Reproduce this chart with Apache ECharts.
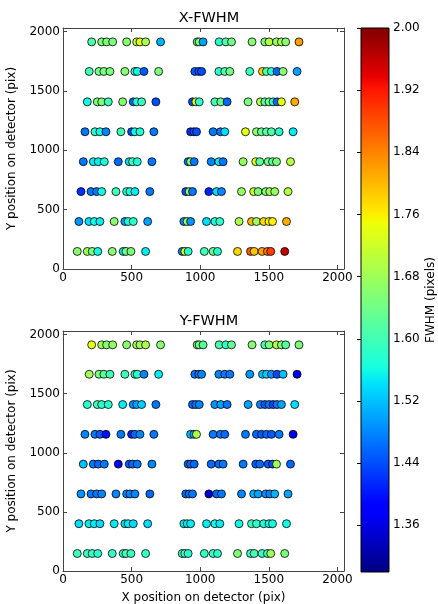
<!DOCTYPE html>
<html><head><meta charset="utf-8">
<script src="https://cdn.jsdelivr.net/npm/echarts@6/dist/echarts.min.js"></script>
<style>html,body{margin:0;padding:0;background:#fff}#c{width:438px;height:604px}</style>
</head><body><div id="c"></div>
<script>
// Rows of stars (Y detector position) and their X positions
const rowY = [1913, 1664, 1408, 1156, 904, 652, 400, 148];
const rowX = [
  [209, 282, 318, 362, 464, 537, 561, 602, 711, 978, 992, 1021, 1138, 1187, 1228, 1378, 1471, 1502, 1556, 1592, 1623, 1720],
  [191, 262, 298, 342, 451, 524, 541, 590, 697, 961, 990, 1010, 1136, 1179, 1216, 1361, 1454, 1483, 1519, 1560, 1604, 1706],
  [177, 250, 282, 330, 435, 512, 537, 573, 677, 944, 968, 993, 1107, 1150, 1196, 1349, 1439, 1471, 1502, 1531, 1560, 1592, 1689],
  [160, 233, 269, 313, 422, 500, 524, 561, 662, 930, 954, 973, 1094, 1148, 1179, 1330, 1410, 1446, 1483, 1519, 1575, 1677],
  [148, 221, 257, 301, 403, 483, 507, 541, 648, 912, 930, 956, 1080, 1136, 1167, 1313, 1405, 1434, 1495, 1527, 1556, 1658],
  [131, 204, 245, 282, 386, 464, 488, 524, 633, 895, 920, 944, 1063, 1119, 1155, 1301, 1390, 1422, 1478, 1507, 1543, 1640],
  [116, 189, 228, 269, 373, 451, 475, 512, 617, 881, 905, 930, 1046, 1107, 1143, 1283, 1374, 1410, 1463, 1502, 1527, 1629],
  [104, 177, 213, 253, 359, 439, 459, 495, 602, 869, 888, 912, 1030, 1094, 1126, 1272, 1367, 1393, 1451, 1490, 1514, 1616]
];
const xFwhm = [
  [1.61, 1.65, 1.65, 1.65, 1.66, 1.70, 1.74, 1.69, 1.51, 1.64, 1.65, 1.50, 1.58, 1.61, 1.64, 1.66, 1.65, 1.70, 1.67, 1.69, 1.66, 1.82],
  [1.60, 1.64, 1.65, 1.65, 1.66, 1.57, 1.56, 1.45, 1.65, 1.45, 1.44, 1.44, 1.58, 1.61, 1.64, 1.59, 1.78, 1.61, 1.58, 1.46, 1.66, 1.50],
  [1.56, 1.65, 1.65, 1.60, 1.66, 1.46, 1.57, 1.59, 1.44, 1.44, 1.73, 1.58, 1.60, 1.63, 1.46, 1.65, 1.70, 1.61, 1.65, 1.58, 1.46, 1.74, 1.81],
  [1.47, 1.58, 1.56, 1.48, 1.60, 1.44, 1.56, 1.57, 1.47, 1.42, 1.44, 1.44, 1.47, 1.47, 1.54, 1.74, 1.66, 1.63, 1.62, 1.61, 1.58, 1.55],
  [1.47, 1.55, 1.55, 1.57, 1.46, 1.54, 1.59, 1.57, 1.47, 1.47, 1.66, 1.47, 1.48, 1.55, 1.47, 1.67, 1.73, 1.62, 1.64, 1.62, 1.65, 1.70],
  [1.42, 1.47, 1.47, 1.56, 1.60, 1.57, 1.57, 1.55, 1.47, 1.44, 1.68, 1.47, 1.41, 1.54, 1.48, 1.67, 1.72, 1.65, 1.66, 1.68, 1.67, 1.70],
  [1.49, 1.54, 1.56, 1.55, 1.66, 1.50, 1.57, 1.58, 1.50, 1.48, 1.69, 1.49, 1.54, 1.57, 1.58, 1.69, 1.80, 1.68, 1.78, 1.75, 1.76, 1.81],
  [1.66, 1.68, 1.65, 1.56, 1.66, 1.55, 1.64, 1.65, 1.55, 1.48, 1.74, 1.58, 1.60, 1.63, 1.58, 1.78, 1.87, 1.79, 1.82, 1.85, 1.89, 1.96]
];
const yFwhm = [
  [1.74, 1.68, 1.66, 1.67, 1.66, 1.69, 1.68, 1.69, 1.66, 1.65, 1.64, 1.62, 1.61, 1.58, 1.63, 1.66, 1.60, 1.65, 1.70, 1.66, 1.62, 1.65],
  [1.68, 1.65, 1.62, 1.60, 1.60, 1.58, 1.58, 1.48, 1.55, 1.47, 1.47, 1.48, 1.48, 1.47, 1.47, 1.49, 1.52, 1.53, 1.49, 1.44, 1.52, 1.37],
  [1.58, 1.60, 1.58, 1.58, 1.55, 1.49, 1.50, 1.53, 1.47, 1.46, 1.47, 1.48, 1.49, 1.50, 1.47, 1.50, 1.48, 1.45, 1.47, 1.44, 1.47, 1.50, 1.54],
  [1.48, 1.47, 1.45, 1.40, 1.47, 1.41, 1.46, 1.48, 1.47, 1.52, 1.50, 1.69, 1.47, 1.47, 1.46, 1.47, 1.46, 1.45, 1.46, 1.45, 1.47, 1.37],
  [1.52, 1.47, 1.46, 1.47, 1.39, 1.45, 1.46, 1.47, 1.48, 1.46, 1.46, 1.46, 1.46, 1.46, 1.47, 1.47, 1.45, 1.46, 1.45, 1.44, 1.68, 1.46],
  [1.49, 1.47, 1.47, 1.48, 1.48, 1.48, 1.48, 1.48, 1.46, 1.46, 1.47, 1.47, 1.35, 1.46, 1.47, 1.48, 1.51, 1.50, 1.49, 1.48, 1.51, 1.50],
  [1.54, 1.55, 1.55, 1.54, 1.55, 1.54, 1.55, 1.54, 1.54, 1.55, 1.55, 1.55, 1.55, 1.56, 1.55, 1.56, 1.59, 1.58, 1.57, 1.56, 1.56, 1.56],
  [1.60, 1.59, 1.59, 1.58, 1.59, 1.58, 1.60, 1.59, 1.59, 1.60, 1.59, 1.58, 1.59, 1.59, 1.58, 1.65, 1.59, 1.60, 1.59, 1.59, 1.68, 1.65]
];
const posTicks = [0, 500, 1000, 1500, 2000];
const cbarTicks = [1.36, 1.44, 1.52, 1.60, 1.68, 1.76, 1.84, 1.92, 2.00];
const cbarRange = [1.30, 2.00];

// jet colormap
function interp(pts, t) {
  for (let i = 0; i < pts.length - 1; i++) {
    const a = pts[i], b = pts[i + 1];
    if (t >= a[0] && t <= b[0]) return a[1] + (b[1] - a[1]) * (t - a[0]) / (b[0] - a[0]);
  }
  return pts[pts.length - 1][1];
}
const JR = [[0,0],[0.35,0],[0.66,1],[0.89,1],[1,0.5]];
const JG = [[0,0],[0.125,0],[0.375,1],[0.64,1],[0.91,0],[1,0]];
const JB = [[0,0.5],[0.11,1],[0.34,1],[0.65,0],[1,0]];
function jet(t) {
  const c = v => Math.round(255 * v);
  return 'rgb(' + c(interp(JR, t)) + ',' + c(interp(JG, t)) + ',' + c(interp(JB, t)) + ')';
}
const jetColors = [];
for (let i = 0; i <= 100; i++) jetColors.push(jet(i / 100));
const gradStops = jetColors.map((col, i) => ({ offset: i / 100, color: col }));

function makeData(vals) {
  const d = [];
  rowY.forEach((y, r) => rowX[r].forEach((x, i) => d.push([x, y, vals[r][i]])));
  return d;
}

const FONT = 'DejaVu Sans';
const lineCol = '#444';
const txt = { fontFamily: FONT, fontSize: 12, color: '#000' };

function posX(grid, pos, labels, name) {
  return {
    gridIndex: grid, type: 'value', min: 0, max: 2048, position: pos,
    axisLine: { show: true, onZero: false, lineStyle: { color: lineCol, width: 1 } },
    axisTick: { show: true, inside: true, length: 4, customValues: posTicks, lineStyle: { color: lineCol } },
    axisLabel: { show: labels, customValues: posTicks, margin: 3, formatter: v => String(v), ...txt },
    splitLine: { show: false },
    name: name || '', nameLocation: 'middle', nameGap: 21, nameTextStyle: txt
  };
}
function posY(grid, pos, labels, name) {
  return {
    gridIndex: grid, type: 'value', min: 0, max: 2030, position: pos,
    axisLine: { show: true, onZero: false, lineStyle: { color: lineCol, width: 1 } },
    axisTick: { show: true, inside: true, length: 4, customValues: posTicks, lineStyle: { color: lineCol } },
    axisLabel: { show: labels, customValues: posTicks, margin: 3, formatter: v => String(v), ...txt },
    splitLine: { show: false },
    name: name || '', nameLocation: 'middle', nameGap: 45, nameTextStyle: txt
  };
}

const chart = echarts.init(document.getElementById('c'), null, { renderer: 'canvas' });
chart.setOption({
  backgroundColor: '#fff',
  animation: false,
  textStyle: { fontFamily: FONT },
  title: [
    { text: 'X-FWHM', left: 204, top: 6, textAlign: 'center', textStyle: { fontFamily: FONT, fontSize: 14.5, fontWeight: 'normal', color: '#000' } },
    { text: 'Y-FWHM', left: 204, top: 309, textAlign: 'center', textStyle: { fontFamily: FONT, fontSize: 14.5, fontWeight: 'normal', color: '#000' } }
  ],
  grid: [
    { left: 63, top: 28, width: 281, height: 241, containLabel: false, outerBoundsMode: 'none' },
    { left: 63, top: 331, width: 281, height: 240, containLabel: false, outerBoundsMode: 'none' },
    { left: 361, top: 28, width: 28, height: 544, containLabel: false, outerBoundsMode: 'none' }
  ],
  xAxis: [
    posX(0, 'bottom', true),
    posX(0, 'top', false),
    posX(1, 'bottom', true, 'X position on detector (pix)'),
    posX(1, 'top', false),
    { gridIndex: 2, type: 'value', min: 0, max: 1, show: false }
  ],
  yAxis: [
    posY(0, 'left', true, 'Y position on detector (pix)'),
    posY(0, 'right', false),
    posY(1, 'left', true, 'Y position on detector (pix)'),
    posY(1, 'right', false),
    {
      gridIndex: 2, type: 'value', min: cbarRange[0], max: cbarRange[1], position: 'right',
      axisLine: { show: false },
      axisTick: { show: true, inside: true, length: 4, customValues: cbarTicks, lineStyle: { color: '#000' } },
      axisLabel: { show: true, customValues: cbarTicks, margin: 4, formatter: v => v.toFixed(2), ...txt },
      splitLine: { show: false },
      name: 'FWHM (pixels)', nameLocation: 'middle', nameRotate: 90, nameGap: 36, nameTextStyle: txt
    }
  ],
  visualMap: {
    type: 'continuous', show: false, min: cbarRange[0], max: cbarRange[1], dimension: 2,
    seriesIndex: [0, 1], inRange: { color: jetColors }
  },
  series: [
    {
      type: 'scatter', xAxisIndex: 0, yAxisIndex: 0, data: makeData(xFwhm), symbolSize: 8,
      itemStyle: { borderColor: '#000', borderWidth: 0.8, opacity: 1 }
    },
    {
      type: 'scatter', xAxisIndex: 2, yAxisIndex: 2, data: makeData(yFwhm), symbolSize: 8,
      itemStyle: { borderColor: '#000', borderWidth: 0.8, opacity: 1 }
    },
    {
      type: 'custom', xAxisIndex: 4, yAxisIndex: 4, z: 5,
      data: [[0, cbarRange[0], 1, cbarRange[1]]],
      encode: { x: [0, 2], y: [1, 3] },
      renderItem: (params, api) => {
        const p0 = api.coord([api.value(0), api.value(1)]);
        const p1 = api.coord([api.value(2), api.value(3)]);
        return {
          type: 'rect',
          shape: { x: p0[0], y: p1[1], width: p1[0] - p0[0], height: p0[1] - p1[1] },
          style: { fill: new echarts.graphic.LinearGradient(0, 1, 0, 0, gradStops), stroke: '#000', lineWidth: 1 }
        };
      }
    }
  ]
});
</script>
</body></html>
